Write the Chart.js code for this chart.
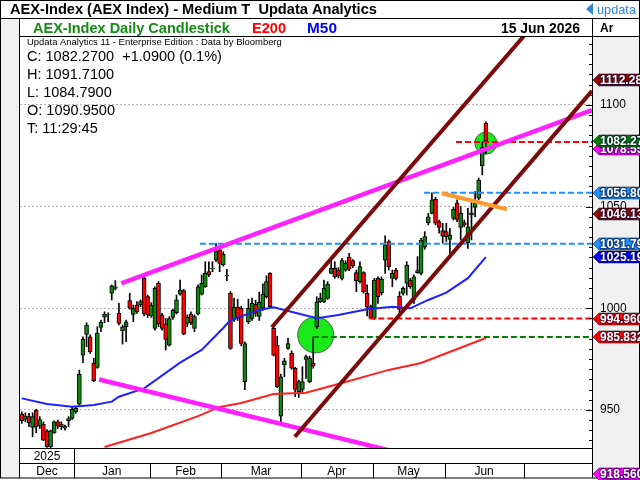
<!DOCTYPE html>
<html>
<head>
<meta charset="utf-8">
<script src="https://cdn.jsdelivr.net/npm/chart.js@4.4.1/dist/chart.umd.min.js"></script>
<style>
html, body { margin: 0; padding: 0; background: #fff; }
</style>
</head>
<body>
<canvas id="chart" width="640" height="480"></canvas>
<script>
// daily candles, Dec 2025 - 15 Jun 2026 (one entry per trading day)
const opens = [948.0, 945.3, 946.7, 941.4, 949.9, 942.1, 943.1, 939.8, 931.9, 938.8,
  944.2, 943.1, 941.1, 944.7, 945.8, 949.1, 952.9, 977.0, 987.2, 986.0,
  972.9, 970.9, 990.6, 995.6, 996.8, 1007.4, 1009.8, 997.5, 989.0, 990.9,
  1003.8, 997.0, 1001.6, 1001.6, 1014.7, 1005.7, 996.2, 990.1, 1012.3, 996.7,
  992.3, 981.9, 995.5, 997.8, 1007.0, 1008.7, 992.6, 997.2, 990.1, 997.2,
  1007.0, 1010.6, 1018.0, 1019.4, 1023.7, 1028.7, 1021.3, 1016.2, 1007.4, 994.5,
  1000.5, 1000.0, 963.9, 993.4, 995.0, 1002.0, 996.0, 1000.0, 1005.7, 1017.2,
  990.1, 981.9, 947.0, 972.1, 980.3, 977.8, 970.5, 959.0, 960.1, 974.9,
  963.9, 973.1, 990.9, 1003.2, 1003.2, 1004.9, 1017.2, 1019.6, 1018.8, 1014.7,
  1018.8, 1025.0, 1023.4, 1017.5, 1013.1, 1017.5, 1007.4, 1000.8, 995.0, 1014.7,
  1007.7, 1023.7, 1032.8, 1014.7, 1018.8, 1006.0, 1007.3, 1012.3, 1013.9, 1004.1,
  1017.5, 1017.2, 1030.0, 1042.1, 1046.7, 1053.6, 1042.6, 1038.2, 1037.7, 1033.9,
  1044.2, 1051.9, 1039.8, 1042.1, 1032.3, 1045.9, 1049.6, 1054.1, 1070.0, 1090.95];
const highs = [949.1, 948.6, 948.3, 948.6, 950.3, 946.7, 944.2, 940.4, 940.1, 944.7,
  945.0, 944.2, 942.6, 946.7, 951.6, 951.6, 969.6, 986.0, 992.9, 986.9,
  975.4, 990.9, 994.2, 998.3, 997.8, 1011.5, 1013.6, 1002.4, 991.8, 994.2,
  1007.4, 1001.6, 1003.3, 1004.1, 1015.6, 1006.5, 1002.8, 1010.6, 1013.1, 997.5,
  995.0, 995.9, 999.5, 1006.5, 1013.9, 1009.3, 996.7, 998.3, 996.7, 1011.5,
  1016.4, 1022.9, 1022.9, 1022.9, 1031.8, 1030.6, 1027.8, 1019.2, 1008.2, 1005.0,
  1004.5, 1001.0, 983.5, 1004.5, 1005.0, 1004.0, 1008.0, 1012.0, 1016.0, 1017.6,
  991.0, 986.3, 967.6, 975.4, 985.2, 979.1, 971.0, 964.7, 971.3, 977.0,
  976.5, 985.8, 1005.7, 1007.4, 1013.9, 1013.1, 1023.7, 1022.9, 1020.0, 1024.6,
  1023.4, 1027.0, 1024.0, 1018.8, 1022.9, 1018.0, 1011.5, 1001.6, 1014.7, 1015.5,
  1015.5, 1035.6, 1033.6, 1018.8, 1019.6, 1008.2, 1010.6, 1022.9, 1014.7, 1016.4,
  1025.4, 1034.4, 1037.7, 1046.7, 1056.8, 1054.6, 1043.4, 1041.8, 1041.8, 1039.3,
  1049.6, 1053.3, 1050.0, 1043.4, 1049.2, 1052.4, 1057.4, 1064.0, 1081.9, 1091.71];
const lows = [943.4, 944.2, 941.8, 936.8, 938.8, 940.9, 934.9, 931.6, 931.0, 938.5,
  940.9, 940.4, 940.1, 941.8, 945.3, 948.3, 952.4, 973.3, 981.1, 977.8,
  963.9, 970.5, 988.5, 992.9, 993.4, 1004.1, 1009.0, 991.8, 982.4, 983.6,
  999.5, 993.4, 997.5, 1000.8, 996.2, 995.5, 995.5, 989.3, 991.0, 989.3,
  979.5, 981.4, 994.5, 997.2, 1006.5, 987.0, 991.0, 992.0, 988.5, 996.7,
  1006.5, 1010.3, 1015.5, 1018.0, 1022.9, 1018.0, 1020.8, 1013.6, 979.8, 993.5,
  994.0, 981.5, 960.0, 992.5, 994.0, 996.0, 994.0, 999.0, 1005.0, 1000.3,
  976.5, 961.0, 944.0, 966.3, 979.8, 970.0, 956.5, 956.2, 958.1, 965.5,
  963.4, 970.5, 990.0, 1002.8, 1002.8, 1004.4, 1016.9, 1014.7, 1015.0, 1013.9,
  1018.2, 1018.5, 1020.0, 1008.2, 1012.3, 1007.4, 996.2, 994.96, 994.5, 1002.4,
  1006.5, 1017.2, 1018.8, 1010.6, 1013.9, 997.5, 1006.5, 1006.5, 1009.8, 1002.4,
  1017.2, 1016.4, 1029.0, 1041.0, 1046.4, 1041.0, 1036.9, 1032.0, 1032.8, 1027.0,
  1043.4, 1042.6, 1033.6, 1040.1, 1029.5, 1033.6, 1045.0, 1053.3, 1065.6, 1076.2];
const closes = [944.7, 947.0, 943.7, 946.7, 941.8, 945.3, 935.2, 931.9, 939.8, 944.2,
  942.1, 941.8, 941.8, 945.8, 950.3, 950.8, 967.7, 984.7, 991.8, 978.7,
  964.4, 987.7, 993.1, 997.2, 996.9, 1011.0, 1010.6, 992.6, 990.9, 993.4,
  1000.0, 1000.0, 998.3, 1003.3, 997.2, 996.7, 1001.6, 1009.8, 992.3, 990.1,
  984.7, 995.0, 999.1, 1004.1, 1009.0, 987.3, 995.5, 992.9, 995.9, 1010.6,
  1012.3, 1017.2, 1016.4, 1019.6, 1028.3, 1022.1, 1026.7, 1015.9, 980.3, 1000.5,
  995.0, 982.7, 982.7, 1000.0, 1002.4, 997.5, 1003.0, 1007.0, 1013.1, 1000.8,
  977.0, 961.4, 966.3, 974.2, 982.7, 970.5, 960.1, 963.9, 963.9, 976.2,
  975.4, 971.6, 1003.2, 1004.9, 1009.8, 1011.9, 1019.6, 1015.5, 1015.9, 1023.4,
  1022.1, 1019.2, 1020.8, 1013.6, 1020.5, 1008.2, 1000.5, 995.0, 1013.9, 1005.7,
  1014.2, 1031.1, 1020.5, 1017.2, 1014.7, 999.5, 1009.8, 1021.3, 1010.6, 1015.5,
  1018.5, 1033.6, 1035.2, 1045.0, 1053.3, 1041.8, 1039.8, 1035.5, 1035.2, 1036.0,
  1048.7, 1043.7, 1046.7, 1040.9, 1040.1, 1047.0, 1051.6, 1063.1, 1079.2, 1082.27];

// moving averages, read at selected trading days
const e200X = [23, 36, 49, 55, 61, 70, 79, 88, 102, 111, 129];
const e200Y = [931.8, 938.7, 947.0, 951.5, 953.4, 957.8, 958.5, 962.8, 969.7, 973.1, 985.4];
const m50X = [0, 7, 14, 20, 25, 27, 34, 44, 50, 56, 58, 66, 70, 73, 82, 88, 96, 103, 108, 113, 118, 124, 129];
const m50Y = [955.7, 952.9, 951.6, 952.4, 954.1, 956.5, 960.6, 973.3, 979.5, 990.3, 994.2, 999.2,
  1000.5, 999.2, 995.1, 996.7, 999.5, 1000.8, 1000.0, 1004.1, 1007.7, 1014.8, 1025.19];

// drawn trend lines (start / end points)
const magentaUpperX = [27.65, 158.5], magentaUpperY = [1012.3, 1097.5];
const magentaLowerX = [21.5, 129], magentaLowerY = [965.0, 918.56];
const channelUpperX = [69.5, 150], channelUpperY = [990.65, 1155.2];
const channelLowerX = [75.9, 158.5], channelLowerY = [936.8, 1106.9];
const orangeX = [116.7, 134.8], orangeY = [1056.6, 1048.7];

// dashed horizontal levels
const levelValues = [1031.79, 1056.80, 1081.8, 994.96, 985.832];
const levelStarts = [49.5, 111.8, 120.7, 96.6, 80.9];
const levelColors = ['#1e90ff', '#1e90ff', '#ff0000', '#ff0000', '#008000'];

// highlight circles
const circleX = [81.7, 129], circleY = [986.9, 1081.2], circleR = [18, 11];

// right-hand price tags
const tagValues = [1112.28, 1078.55, 1082.27, 1056.80, 1046.13, 1031.79, 1025.19, 994.960, 985.832, 918.560];
const tagTexts = ['1112.28', '1078.55', '1082.27', '1056.80', '1046.13', '1031.79', '1025.19', '994.960', '985.832', '918.560'];
const tagColors = ['#8b0a0a', '#ff00ff', '#008000', '#1e90ff', '#8b0a0a', '#1e90ff', '#0000ff', '#ff0000', '#ff0000', '#ff00ff'];

// x axis
const monthNames = ['Dec', 'Jan', 'Feb', 'Mar', 'Apr', 'May', 'Jun'];
const monthBounds = [14.5, 35.5, 55.5, 77.5, 97.5, 117.5, 139.5];
const yearLabel = '2025';

const infoLines = ['C: 1082.2700  +1.0900 (0.1%)', 'H: 1091.7100', 'L: 1084.7900', 'O: 1090.9500', 'T: 11:29:45'];

const FONT = '"Liberation Sans", Arial, sans-serif';

function pts(xs, ys) {
    return xs.map((x, i) => ({ x: x, y: ys[i] }));
}

function trend(xs, ys, color, width, order) {
    return { type: 'line', data: pts(xs, ys), borderColor: color, borderWidth: width,
        pointRadius: 0, tension: 0, order: order, clip: 0 };
}

const datasets = [];
datasets.push({
    type: 'bubble',
    data: circleX.map((x, i) => ({ x: x, y: circleY[i], r: circleR[i] })),
    backgroundColor: '#1aea1a', borderColor: '#3b6b3b', borderWidth: 1, order: 20, clip: 0
});
datasets.push({
    type: 'bar',
    data: opens.map((o, i) => ({ x: i, y: [lows[i], highs[i]] })),
    backgroundColor: '#000', borderWidth: 0, barThickness: 1, grouped: false, order: 19, clip: 0
});
datasets.push({
    type: 'bar',
    data: opens.map((o, i) => ({ x: i, y: [o, closes[i]] })),
    backgroundColor: opens.map((o, i) => closes[i] >= o ? '#0a8a0a' : '#ff0000'),
    borderColor: '#000', borderWidth: 1, borderSkipped: false,
    barThickness: 4, grouped: false, order: 18, clip: 0
});
datasets.push(trend(e200X, e200Y, '#ff2020', 2, 10));
datasets.push(trend(m50X, m50Y, '#2020ff', 2, 10));
levelValues.forEach((v, k) => {
    datasets.push({ type: 'line', data: pts([levelStarts[k], 158.5], [v, v]), borderColor: levelColors[k],
        borderWidth: 2, borderDash: [6, 3], pointRadius: 0, order: 8, clip: 0 });
});
datasets.push(trend(magentaUpperX, magentaUpperY, '#ff22ff', 4.5, 5));
datasets.push(trend(magentaLowerX, magentaLowerY, '#ff22ff', 4.5, 5));
datasets.push(trend(channelUpperX, channelUpperY, '#7d0a0a', 4, 4));
datasets.push(trend(channelLowerX, channelLowerY, '#7d0a0a', 4, 4));
datasets.push(trend(orangeX, orangeY, '#ff9a2e', 4, 3));

function fitFont(ctx, text, width, weight) {
    ctx.font = weight + ' 20px ' + FONT;
    const size = 20 * width / ctx.measureText(text).width;
    return weight + ' ' + size.toFixed(2) + 'px ' + FONT;
}

function drawText(ctx, text, x, y, width, weight, color) {
    ctx.font = fitFont(ctx, text, width, weight);
    ctx.fillStyle = color;
    ctx.textAlign = 'left';
    ctx.textBaseline = 'alphabetic';
    ctx.fillText(text, x, y);
}

function line(ctx, x1, y1, x2, y2) {
    ctx.beginPath();
    ctx.moveTo(x1, y1);
    ctx.lineTo(x2, y2);
    ctx.stroke();
}

function drawTag(ctx, x0, y, text, color) {
    ctx.beginPath();
    ctx.moveTo(x0 + 1, y);
    ctx.lineTo(x0 + 7, y - 6);
    ctx.lineTo(641, y - 6);
    ctx.lineTo(641, y + 6);
    ctx.lineTo(x0 + 7, y + 6);
    ctx.closePath();
    ctx.fillStyle = color;
    ctx.fill();
    ctx.strokeStyle = 'rgba(0,0,0,0.45)';
    ctx.lineWidth = 1;
    ctx.stroke();
    ctx.font = 'bold 12px ' + FONT;
    ctx.textAlign = 'left';
    ctx.textBaseline = 'middle';
    ctx.lineJoin = 'round';
    ctx.lineWidth = 2.5;
    ctx.strokeStyle = 'rgba(0,0,50,0.55)';
    ctx.strokeText(text, x0 + 8, y + 1);
    ctx.fillStyle = '#fff';
    ctx.fillText(text, x0 + 8, y + 1);
}

const chrome = {
    id: 'chrome',
    beforeDraw(chart) {
        const ctx = chart.ctx, a = chart.chartArea;
        ctx.save();
        ctx.fillStyle = '#fff';
        ctx.fillRect(0, 0, 640, 480);
        ctx.fillStyle = '#f0f0f0';
        ctx.fillRect(0, 18, a.left, 460);
        ctx.fillRect(a.right, a.top, 640 - a.right, 478 - a.top);
        ctx.restore();
    },
    afterDraw(chart) {
        const ctx = chart.ctx, a = chart.chartArea;
        const xs = chart.scales.x, ys = chart.scales.y;
        ctx.save();

        // inner ticks on the price axis
        ctx.strokeStyle = '#000';
        ctx.lineWidth = 1;
        ys.ticks.forEach(t => {
            const y = Math.round(ys.getPixelForValue(t.value)) + 0.5;
            const len = t.value % 50 === 0 ? 6 : 3;
            line(ctx, a.right - len, y, a.right, y);
        });

        // frame
        ctx.strokeStyle = '#000';
        ctx.lineWidth = 1;
        ctx.strokeRect(0.5, 0.5, 639, 477.5);
        line(ctx, 0, 18.5, 640, 18.5);
        line(ctx, a.left, a.top - 0.5, 640, a.top - 0.5);
        line(ctx, a.left - 0.5, 18, a.left - 0.5, 478);
        line(ctx, a.right + 0.5, 18, a.right + 0.5, 478);
        line(ctx, a.left, a.bottom + 0.5, a.right, a.bottom + 0.5);
        line(ctx, a.left, a.bottom + 15.5, a.right, a.bottom + 15.5);

        // month axis
        const row1 = a.bottom + 8, row2 = a.bottom + 23;
        ctx.font = '12px ' + FONT;
        ctx.fillStyle = '#000';
        ctx.textAlign = 'center';
        ctx.textBaseline = 'middle';
        const edges = [a.left].concat(monthBounds.map(b => xs.getPixelForValue(b)));
        edges.slice(1).forEach(px => {
            const x = Math.round(px) + 0.5;
            line(ctx, x, a.bottom + 15, x, 478);
        });
        const x0 = Math.round(edges[1]) + 0.5;
        line(ctx, x0, a.bottom, x0, a.bottom + 15);
        monthNames.forEach((m, k) => ctx.fillText(m, (edges[k] + edges[k + 1]) / 2, row2 + 1));
        ctx.fillText(yearLabel, (edges[0] + edges[1]) / 2, row1 + 1);

        // title bar
        drawText(ctx, 'AEX-Index (AEX Index) - Medium T  Updata Analytics', 10, 14, 367, 'bold', '#000');
        ctx.fillStyle = '#2f86d4';
        ctx.beginPath();
        ctx.moveTo(586, 9); ctx.lineTo(593, 3); ctx.lineTo(593, 15); ctx.closePath();
        ctx.fill();
        drawText(ctx, 'updata', 597, 14, 39, 'normal', '#2f86d4');

        // header row
        drawText(ctx, 'AEX-Index Daily Candlestick', 33, 32.5, 197, 'bold', '#158a15');
        drawText(ctx, 'E200', 252, 32.5, 34, 'bold', '#ff0000');
        drawText(ctx, 'M50', 307, 32.5, 30, 'bold', '#0000ff');
        drawText(ctx, '15 Jun 2026', 501, 32.5, 79, 'bold', '#000');
        ctx.font = 'bold 12px ' + FONT;
        ctx.fillStyle = '#000';
        ctx.textAlign = 'left';
        ctx.fillText('Ar', 600, 32);

        // info block
        drawText(ctx, 'Updata Analytics 11 - Enterprise Edition : Data by Bloomberg', 27, 44.5, 255, 'normal', '#000');
        const infoFont = fitFont(ctx, infoLines[0], 195, 'normal');
        ctx.font = infoFont;
        ctx.fillStyle = '#000';
        ctx.textBaseline = 'alphabetic';
        infoLines.forEach((t, k) => ctx.fillText(t, 27, 61 + k * 17.9));

        // price tags
        tagValues.forEach((v, k) => drawTag(ctx, a.right, Math.round(ys.getPixelForValue(v)), tagTexts[k], tagColors[k]));
        ctx.restore();
    }
};

new Chart(document.getElementById('chart'), {
    type: 'bar',
    data: { datasets: datasets },
    options: {
        responsive: false,
        animation: false,
        devicePixelRatio: 1,
        layout: { padding: { left: 20, top: 37, bottom: 32, right: 0 } },
        plugins: { legend: { display: false }, tooltip: { enabled: false } },
        scales: {
            x: { type: 'linear', min: -0.5, max: 158.5, display: false, offset: false },
            y: {
                position: 'right',
                min: 931.3,
                max: 1133.4,
                afterFit: s => { s.width = 48; },
                afterBuildTicks: s => {
                    const t = [];
                    for (let v = 935; v <= 1130; v += 5) t.push({ value: v });
                    s.ticks = t;
                },
                grid: {
                    color: c => (c.tick && c.tick.value % 50 === 0) ? '#b4b4b4' : 'rgba(0,0,0,0)',
                    drawTicks: false,
                    lineWidth: 1
                },
                border: { display: false, dash: [2, 2] },
                ticks: {
                    autoSkip: false,
                    padding: 8,
                    color: '#000',
                    font: { family: FONT, size: 12 },
                    callback: v => v % 50 === 0 ? String(v) : ''
                }
            }
        }
    },
    plugins: [chrome]
});
</script>
</body>
</html>
